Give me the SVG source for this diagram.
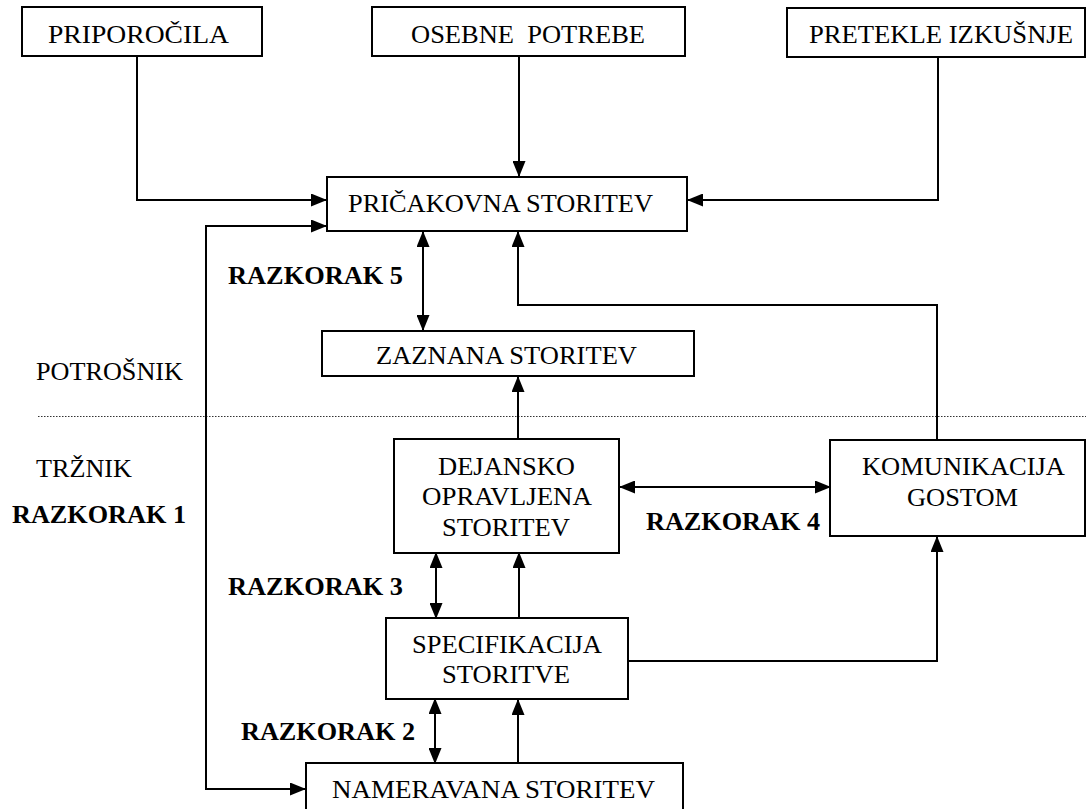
<svg xmlns="http://www.w3.org/2000/svg" width="1086" height="809" viewBox="0 0 1086 809">
  <style>
    .box { fill: #ffffff; stroke: #000000; stroke-width: 2; }
    .c { fill: none; stroke: #000000; stroke-width: 2; }
    .arr { marker-end: url(#ah); }
    .both { marker-start: url(#ah); marker-end: url(#ah); }
    .sep { fill: none; stroke: #333333; stroke-width: 1.2; stroke-dasharray: 1.5 1.5; }
    text { font-family: 'Liberation Serif', 'Times New Roman', serif; font-size: 26px; fill: #000000; }
    .b { font-weight: bold; }
  </style>
  <defs>
    <marker id="ah" markerUnits="userSpaceOnUse" markerWidth="16" markerHeight="13" refX="15" refY="6.5" orient="auto-start-reverse">
      <path d="M0,0 L16,6.5 L0,13 z" fill="#000000"/>
    </marker>
  </defs>
  <rect width="1086" height="809" fill="#ffffff"/>

  <!-- consumer / marketer divider -->
  <line class="sep" x1="38" y1="416.5" x2="1086" y2="416.5"/>

  <g id="connectors">
    <path class="c arr" d="M137,56 V200 H326"/>
    <path class="c arr" d="M519,56 V176"/>
    <path class="c arr" d="M938,57 V200 H688"/>
    <path class="c both" d="M326,226 H206 V789 H305"/>
    <path class="c both" d="M423,232 V330"/>
    <path class="c arr" d="M937,440 V305 H518 V232"/>
    <path class="c arr" d="M518,439 V377"/>
    <path class="c both" d="M620,487 H830"/>
    <path class="c both" d="M436,553 V618"/>
    <path class="c arr" d="M519,618 V553"/>
    <path class="c arr" d="M628,661 H937 V537"/>
    <path class="c both" d="M435,699 V763"/>
    <path class="c arr" d="M518,763 V700"/>
  </g>

  <g id="priporocila">
    <rect class="box" x="22" y="7" width="240" height="49"/>
    <text x="48" y="43" textLength="181" lengthAdjust="spacingAndGlyphs">PRIPOROČILA</text>
  </g>
  <g id="osebne-potrebe">
    <rect class="box" x="372" y="7" width="313" height="49"/>
    <text x="411" y="43" textLength="234" lengthAdjust="spacingAndGlyphs" xml:space="preserve">OSEBNE  POTREBE</text>
  </g>
  <g id="pretekle-izkusnje">
    <rect class="box" x="787" y="8" width="298" height="49"/>
    <text x="809" y="43" textLength="264" lengthAdjust="spacingAndGlyphs">PRETEKLE IZKUŠNJE</text>
  </g>
  <g id="pricakovana-storitev">
    <rect class="box" x="327" y="177" width="360" height="54"/>
    <text x="348" y="212" textLength="305" lengthAdjust="spacingAndGlyphs">PRIČAKOVNA STORITEV</text>
  </g>
  <g id="zaznana-storitev">
    <rect class="box" x="322" y="331" width="372" height="45"/>
    <text x="376" y="364" textLength="261" lengthAdjust="spacingAndGlyphs">ZAZNANA STORITEV</text>
  </g>
  <g id="dejansko-opravljena-storitev">
    <rect class="box" x="394" y="439" width="225" height="114"/>
    <text x="438" y="475" textLength="137" lengthAdjust="spacingAndGlyphs">DEJANSKO</text>
    <text x="422" y="505" textLength="170" lengthAdjust="spacingAndGlyphs">OPRAVLJENA</text>
    <text x="442" y="536" textLength="128" lengthAdjust="spacingAndGlyphs">STORITEV</text>
  </g>
  <g id="komunikacija-gostom">
    <rect class="box" x="830" y="440" width="255" height="96"/>
    <text x="862" y="475" textLength="203" lengthAdjust="spacingAndGlyphs">KOMUNIKACIJA</text>
    <text x="907" y="506" textLength="111" lengthAdjust="spacingAndGlyphs">GOSTOM</text>
  </g>
  <g id="specifikacija-storitve">
    <rect class="box" x="386" y="618" width="242" height="81"/>
    <text x="412" y="653" textLength="190" lengthAdjust="spacingAndGlyphs">SPECIFIKACIJA</text>
    <text x="442" y="683" textLength="128" lengthAdjust="spacingAndGlyphs">STORITVE</text>
  </g>
  <g id="nameravana-storitev">
    <rect class="box" x="306" y="763" width="377" height="60"/>
    <text x="332" y="798" textLength="323" lengthAdjust="spacingAndGlyphs">NAMERAVANA STORITEV</text>
  </g>

  <g id="labels">
    <text x="36" y="380" textLength="147" lengthAdjust="spacingAndGlyphs">POTROŠNIK</text>
    <text x="36" y="477" textLength="96" lengthAdjust="spacingAndGlyphs">TRŽNIK</text>
    <text class="b" x="12" y="523" textLength="174" lengthAdjust="spacingAndGlyphs">RAZKORAK 1</text>
    <text class="b" x="241" y="740" textLength="174" lengthAdjust="spacingAndGlyphs">RAZKORAK 2</text>
    <text class="b" x="228" y="595" textLength="175" lengthAdjust="spacingAndGlyphs">RAZKORAK 3</text>
    <text class="b" x="646" y="530" textLength="174" lengthAdjust="spacingAndGlyphs">RAZKORAK 4</text>
    <text class="b" x="228" y="284" textLength="175" lengthAdjust="spacingAndGlyphs">RAZKORAK 5</text>
  </g>
</svg>
